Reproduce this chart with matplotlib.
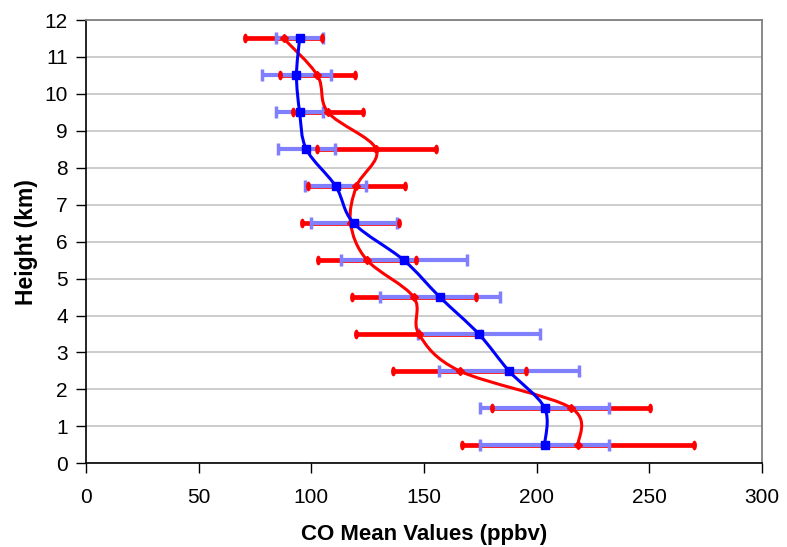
import numpy as np
import matplotlib
matplotlib.use("Agg")
import matplotlib.pyplot as plt
from matplotlib.path import Path
from matplotlib.patches import PathPatch
from matplotlib.markers import MarkerStyle
from matplotlib.transforms import Affine2D

plt.rcParams['font.family'] = ['Liberation Sans', 'DejaVu Sans']

heights = [0.5, 1.5, 2.5, 3.5, 4.5, 5.5, 6.5, 7.5, 8.5, 9.5, 10.5, 11.5]
blue_mean = [203.5, 203.5, 187.7, 174.3, 157.0, 141.0, 118.8, 110.8, 97.8, 94.8, 93.4, 94.8]
blue_err = [28.7, 28.5, 31.0, 27.0, 26.5, 28.0, 19.0, 13.6, 12.7, 10.5, 15.5, 10.5]
red_mean = [218.4, 215.2, 165.8, 147.7, 145.4, 124.7, 117.4, 120.0, 128.8, 107.4, 102.7, 87.7]
red_err = [51.5, 35.0, 29.6, 27.7, 27.5, 21.7, 21.4, 21.4, 26.4, 15.6, 16.5, 17.0]

xticks = [0, 50, 100, 150, 200, 250, 300]
yticks = list(range(0, 13))

RED = '#FF0000'
BLUE = '#0000FF'
LBLUE = '#8080FF'


def smooth_path(xs, ys):
    pts = np.column_stack([xs, ys])
    n = len(pts)
    verts = [pts[0]]
    codes = [Path.MOVETO]
    for i in range(n - 1):
        p0 = pts[i - 1] if i > 0 else pts[i]
        p1 = pts[i]
        p2 = pts[i + 1]
        p3 = pts[i + 2] if i + 2 < n else pts[i + 1]
        c1 = p1 + (p2 - p0) / 6.0
        c2 = p2 - (p3 - p1) / 6.0
        verts += [c1, c2, p2]
        codes += [Path.CURVE4] * 3
    return Path(verts, codes)


fig = plt.figure(figsize=(7.87, 5.47), dpi=100)
ax = fig.add_axes([0.1093, 0.153, 0.859, 0.8104])

ax.set_xlim(0, 300)
ax.set_ylim(0, 12)
ax.set_xticks(xticks)
ax.set_yticks(yticks)
ax.tick_params(axis='both', labelsize=15, length=7, width=1, direction='out')
ax.tick_params(axis='y', pad=6)
ax.tick_params(axis='x', pad=11)

ax.grid(axis='y', color='#C8C8C8', linewidth=1.3, zorder=0)
ax.set_axisbelow(True)
for s in ['top', 'right']:
    ax.spines[s].set_color('#808080')
    ax.spines[s].set_linewidth(1.3)
for s in ['left', 'bottom']:
    ax.spines[s].set_color('black')
    ax.spines[s].set_linewidth(1.2)

# red error bars
r = ax.errorbar(red_mean, heights, xerr=red_err, fmt='none', ecolor=RED,
                elinewidth=3.4, capsize=0)
for b in r[2]:
    b.set_zorder(2)
red_lo = np.array(red_mean) - np.array(red_err)
red_hi = np.array(red_mean) + np.array(red_err)
oval = MarkerStyle(Path.unit_circle().transformed(Affine2D().scale(0.5, 1.0)))
ax.plot(np.concatenate([red_lo, red_hi]), heights + heights, linestyle='none',
        marker=oval, markersize=7, color=RED, markeredgewidth=0, zorder=4)

# blue error bars
bl = ax.errorbar(blue_mean, heights, xerr=blue_err, fmt='none', ecolor=LBLUE,
                 elinewidth=3.0, capsize=4.3, capthick=2.5)
for c in bl[1]:
    c.set_zorder(3)
for b in bl[2]:
    b.set_zorder(3)

# smooth lines
ax.add_patch(PathPatch(smooth_path(red_mean, heights), facecolor='none',
                       edgecolor=RED, linewidth=2.2, zorder=5))
ax.plot(red_mean, heights, linestyle='none', marker='D', markersize=4.5,
        color=RED, zorder=5)
ax.add_patch(PathPatch(smooth_path(blue_mean, heights), facecolor='none',
                       edgecolor=BLUE, linewidth=2.2, zorder=6))
ax.plot(blue_mean, heights, linestyle='none', marker='s', markersize=6,
        color=BLUE, zorder=6)

ax.set_xlabel('CO Mean Values (ppbv)', fontsize=16, fontweight='bold', labelpad=12)
ax.set_ylabel('Height (km)', fontsize=16.5, fontweight='bold', labelpad=5)

fig.savefig('out.png', dpi=100)
